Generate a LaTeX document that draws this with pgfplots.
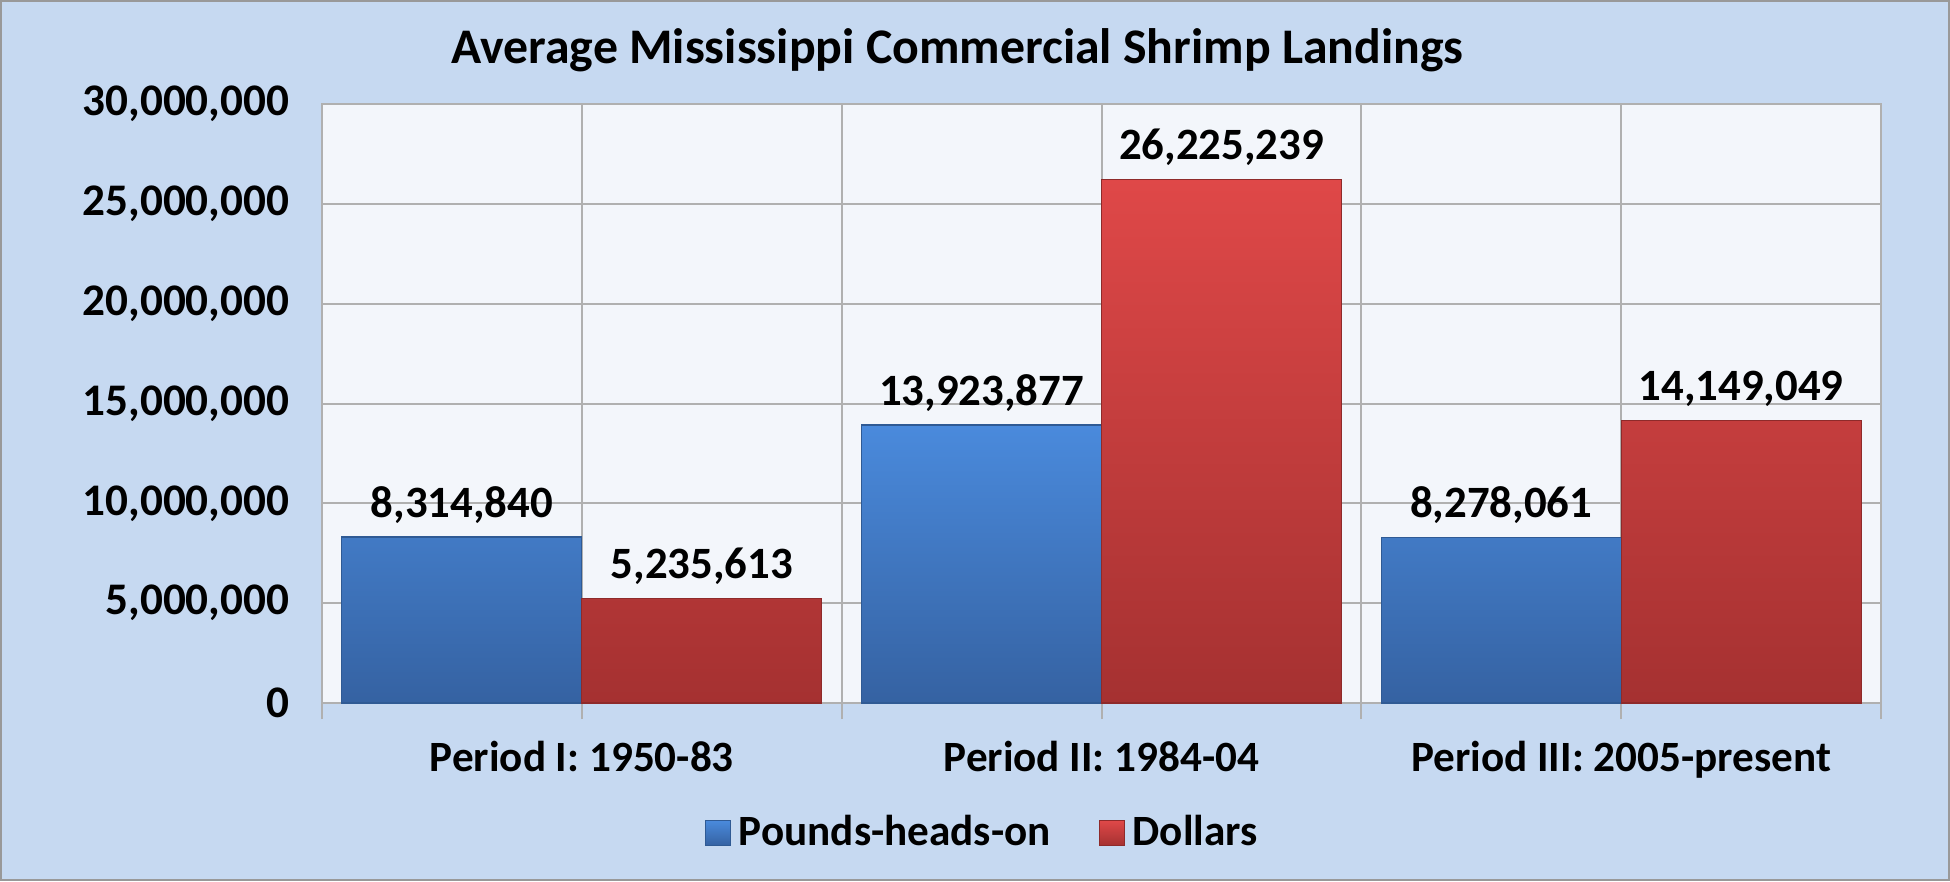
\documentclass[border=0pt]{standalone}
\usepackage{pgfplots}
\pgfplotsset{compat=1.18}
\usepackage{pgfplotstable}
\usepackage{fontspec}
\setmainfont{Carlito}
\definecolor{bgblue}{HTML}{C6D9F1}
\definecolor{plotbg}{HTML}{F3F6FB}
\definecolor{gridgray}{HTML}{B0B0B0}
\definecolor{bluetop}{HTML}{4A8ADC}
\definecolor{bluebot}{HTML}{3562A2}
\definecolor{blueedge}{HTML}{2F5A94}
\definecolor{redtop}{HTML}{DF4848}
\definecolor{redbot}{HTML}{A53131}
\definecolor{rededge}{HTML}{8E2A2A}
\pgfplotstableread{
x pounds plab dollars dlab
0 8314840 8,314,840 5235613 5,235,613
1 13923877 13,923,877 26225239 26,225,239
2 8278061 8,278,061 14149049 14,149,049
}\datatable
\begin{document}
\begin{tikzpicture}[x=1pt,y=1pt]
\fill[bgblue] (0,0) rectangle (487.5,-220.25);
\draw[gray!80, line width=0.6pt] (0.3,-0.3) rectangle (487.2,-219.95);
\node[anchor=base, inner sep=0pt, font=\bfseries\fontsize{12.45}{15}\selectfont] at (239.4,-15.9) {Average Mississippi Commercial Shrimp Landings};
\begin{axis}[
  at={(80.5pt,-175.75pt)}, anchor=south west,
  scale only axis, width=389.75pt, height=149.75pt,
  xmin=-0.5, xmax=2.5, ymin=0, ymax=30000000,
  axis background/.style={fill=plotbg},
  axis line style={draw=gridgray, line width=0.5pt},
  ybar=0pt, bar width=0.4618,
  xtick={0,1,2},
  xticklabels={Period I: 1950-83, Period II: 1984-04, Period III: 2005-present},
  minor xtick={-0.5,0.5,1.5,2.5},
  xmajorgrids, xminorgrids, ymajorgrids,
  grid style={draw=gridgray, line width=0.5pt},
  minor grid style={draw=gridgray, line width=0.5pt},
  tick align=outside, xtick pos=bottom, ytick pos=left,
  major tick length=4pt, minor tick length=4pt,
  x tick style={draw=gridgray, line width=0.5pt},
  minor x tick style={draw=gridgray, line width=0.5pt},
  y tick style={draw=none},
  ytick={0,5000000,10000000,15000000,20000000,25000000,30000000},
  yticklabels={0,{5,000,000},{10,000,000},{15,000,000},{20,000,000},{25,000,000},{30,000,000}},
  scaled y ticks=false,
  xticklabel style={font=\bfseries\fontsize{10.8}{13}\selectfont, anchor=base, inner sep=0pt, yshift=-13pt},
  yticklabel style={font=\bfseries\fontsize{11.3}{13}\selectfont, anchor=east, inner sep=0pt, xshift=-4pt},
  nodes near coords,
  point meta=explicit symbolic,
  nodes near coords style={font=\bfseries\fontsize{11.2}{13}\selectfont, anchor=base, inner sep=0pt, yshift=5pt},
  legend columns=2,
  legend style={at={(0.4255,-0.217)}, anchor=center, draw=none, fill=none,
    font=\bfseries\fontsize{10.8}{13}\selectfont,
    /tikz/every even column/.append style={column sep=10pt}},
  legend image code/.code={\fill[#1] (0pt,-3.1pt) rectangle (6.2pt,3.1pt);},
]
\addplot[draw=blueedge, line width=0.3pt, top color=bluetop, bottom color=bluebot]
  table[x=x, y=pounds, meta=plab]{\datatable};
\addlegendentry{Pounds-heads-on}
\addplot[draw=rededge, line width=0.3pt, top color=redtop, bottom color=redbot]
  table[x=x, y=dollars, meta=dlab]{\datatable};
\addlegendentry{Dollars}
\end{axis}
\end{tikzpicture}
\end{document}
